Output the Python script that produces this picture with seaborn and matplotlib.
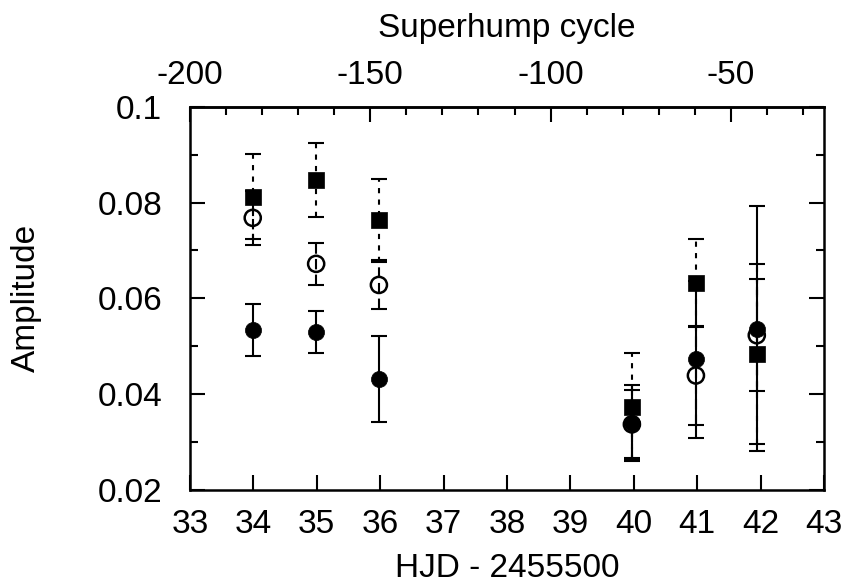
import numpy as np
import pandas as pd
import matplotlib
matplotlib.use("Agg")
import matplotlib.pyplot as plt
from matplotlib.ticker import MultipleLocator, FixedLocator, FixedFormatter
import seaborn as sns

# HJD - 2455500 of each night
hjd = [33.99, 34.99, 35.98, 39.97, 40.98, 41.94]

# filled squares (dashed error bars)
amp_sq = [0.0812, 0.0847, 0.0763, 0.0374, 0.0632, 0.0484]
err_sq = [0.0089, 0.0078, 0.0087, 0.0111, 0.0092, 0.0188]

# open circles
amp_open = [0.0768, 0.0672, 0.0628, 0.0337, 0.0439, 0.0523]
err_open = [0.0056, 0.0044, 0.0051, 0.0071, 0.0103, 0.0117]

# filled circles (solid error bars)
amp_fill = [0.0534, 0.0529, 0.0431, 0.0340, 0.0473, 0.0537]
err_fill = [0.0054, 0.0044, 0.0090, 0.0080, 0.0164, 0.0255]

ytick_vals = [0.02, 0.04, 0.06, 0.08, 0.1]
ytick_text = ["0.02", "0.04", "0.06", "0.08", "0.1"]
cyc_major = [-200, -150, -100, -50]
cyc_minor = [-190, -180, -170, -160, -140, -130, -120, -110,
             -90, -80, -70, -60, -40, -30]

# superhump cycle scale of the top axis
E_HJD0 = 33.0
E_CYC0 = -200.0
PERIOD = 0.05688


def hjd2cyc(x):
    return (np.asarray(x) - E_HJD0) / PERIOD + E_CYC0


def cyc2hjd(e):
    return (np.asarray(e) - E_CYC0) * PERIOD + E_HJD0


sns.set_style("ticks")
plt.rcParams["font.family"] = ["Liberation Sans", "DejaVu Sans"]
plt.rcParams["axes.unicode_minus"] = False
for key in ["text.color", "axes.labelcolor", "xtick.color", "ytick.color", "axes.edgecolor"]:
    plt.rcParams[key] = "black"
FS = 24

df = pd.DataFrame({"hjd": hjd, "sq": amp_sq, "open": amp_open, "fill": amp_fill})

fig = plt.figure(figsize=(8.5, 5.85), dpi=100)
ax = fig.add_axes([0.2235, 0.1624, 0.7459, 0.6552])

bars = [
    (amp_open, err_open, (0, (5, 2.5))),
    (amp_fill, err_fill, "solid"),
    (amp_sq, err_sq, (0, (2.5, 3))),
]
for amp, err, ls in bars:
    eb = ax.errorbar(hjd, amp, yerr=err, fmt="none", ecolor="black",
                     elinewidth=1.5, capsize=6, capthick=1.5, zorder=2)
    eb[2][0].set_linestyle(ls)

sns.scatterplot(data=df, x="hjd", y="open", marker="o", s=135,
                facecolors="none", edgecolor="black", linewidth=1.8, ax=ax, zorder=3)
sns.scatterplot(data=df, x="hjd", y="fill", marker="o", s=135,
                color="black", edgecolor="black", linewidth=0.5, ax=ax, zorder=4)
sns.scatterplot(data=df, x="hjd", y="sq", marker="s", s=130,
                color="black", edgecolor="black", linewidth=0.5, ax=ax, zorder=5)

ax.set_xlim(33, 43)
ax.set_ylim(0.02, 0.1)
ax.xaxis.set_major_locator(MultipleLocator(1))
ax.yaxis.set_major_locator(FixedLocator(ytick_vals))
ax.yaxis.set_major_formatter(FixedFormatter(ytick_text))
ax.yaxis.set_minor_locator(MultipleLocator(0.01))

ax.tick_params(axis="x", which="both", direction="in", top=False, length=11,
               width=1.5, labelsize=FS, pad=14)
ax.tick_params(axis="y", which="major", direction="in", left=True, right=True,
               length=11, width=1.5, labelsize=FS, pad=20)
ax.tick_params(axis="y", which="minor", direction="in", left=True, right=True,
               length=6, width=1.5)
for sp in ax.spines.values():
    sp.set_visible(True)
    sp.set_linewidth(1.8)

secax = ax.secondary_xaxis("top", functions=(hjd2cyc, cyc2hjd))
secax.xaxis.set_major_locator(FixedLocator(cyc_major))
secax.xaxis.set_minor_locator(FixedLocator(cyc_minor))
secax.tick_params(axis="x", which="major", direction="in", length=11, width=1.5,
                  labelsize=FS, pad=11)
secax.tick_params(axis="x", which="minor", direction="in", length=6, width=1.5)
secax.spines["top"].set_linewidth(1.8)
secax.set_xlabel("Superhump cycle", fontsize=FS, labelpad=17)

ax.set_xlabel("HJD - 2455500", fontsize=FS)
ax.set_ylabel("Amplitude", fontsize=FS)
ax.xaxis.set_label_coords(0.5, -0.164)
ax.yaxis.set_label_coords(-0.233, 0.5)

fig.savefig("out.png", dpi=100)
